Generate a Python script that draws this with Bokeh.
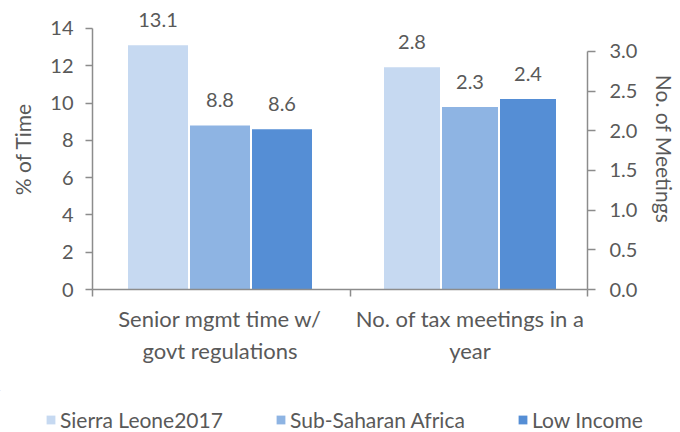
from bokeh.plotting import figure
from bokeh.models import (ColumnDataSource, Range1d, LinearAxis, FixedTicker, LabelSet,
                          Legend, LegendItem, CustomJSTickFormatter)
from bokeh.layouts import column
from bokeh.core.properties import value
from bokeh.embed import file_html
from bokeh.resources import INLINE

# ---- data ----
categories = ["Senior mgmt time w/\ngovt regulations", "No. of tax meetings in a\nyear"]
series = ["Sierra Leone2017", "Sub-Saharan Africa", "Low Income"]
mgmt_time = [13.1, 8.8, 8.6]        # % of Time (left axis)
tax_meetings = [2.8, 2.3, 2.4]      # No. of Meetings (right axis)
left_ticks = [0, 2, 4, 6, 8, 10, 12, 14]
right_ticks = [0, 0.5, 1.0, 1.5, 2.0, 2.5, 3.0]
colors = ["#C6D9F1", "#8EB4E3", "#558ED5"]

FONT = "Lato"
TXT = "#595959"
AX = "#8C8C8C"

W = 680
p = figure(width=W, height=390, output_backend="svg", toolbar_location=None,
           x_range=Range1d(0.49, 2.47), y_range=Range1d(0, 15.07),
           min_border_left=92, min_border_right=93, min_border_top=8,
           min_border_bottom=101)
p.extra_y_ranges = {"right": Range1d(0, 3.542)}
p.outline_line_color = None
p.grid.visible = False
p.background_fill_color = "white"

# group 1 (left axis)
sp1, w1 = 0.248, 0.24
src1 = ColumnDataSource(dict(
    x=[1 + (i - 1) * sp1 for i in range(len(series))],
    top=mgmt_time, color=colors, series=series,
    lbl=[f"{v:.1f}" for v in mgmt_time]))
r1 = p.vbar(x="x", top="top", width=w1, fill_color="color", line_color=None, source=src1)

# group 2 (right axis)
sp2, w2 = 0.232, 0.224
src2 = ColumnDataSource(dict(
    x=[2 + (i - 1) * sp2 for i in range(len(series))],
    top=tax_meetings, color=colors, series=series,
    lbl=[f"{v:.1f}" for v in tax_meetings]))
r2 = p.vbar(x="x", top="top", width=w2, fill_color="color", line_color=None,
            source=src2, y_range_name="right")

for src, rn in ((src1, "default"), (src2, "right")):
    ls = LabelSet(x="x", y="top", text="lbl", source=src, y_range_name=rn,
                  text_align="center", text_baseline="alphabetic", y_offset=18,
                  text_font=value(FONT), text_font_size="20px", text_color=TXT)
    p.add_layout(ls)

# x axis
xa = p.xaxis[0]
xa.ticker = FixedTicker(ticks=[1, 2], minor_ticks=[0.49, 1.52, 2.47])
xa.major_label_overrides = {1: categories[0], 2: categories[1]}
xa.major_tick_out = 0
xa.major_tick_in = 0
xa.minor_tick_out = 7
xa.minor_tick_in = 0
xa.major_label_standoff = 8
xa.axis_line_color = AX
xa.minor_tick_line_color = AX
xa.axis_line_width = 1.5
xa.minor_tick_line_width = 1.5
xa.major_label_text_font = FONT
xa.major_label_text_font_size = "22px"
xa.major_label_text_color = TXT

# left axis
ya = p.yaxis[0]
ya.ticker = FixedTicker(ticks=left_ticks)
ya.bounds = (0, 14)
ya.axis_label = "% of Time"
ya.minor_tick_line_color = None
ya.major_tick_in = 0
ya.major_tick_out = 7

# right axis
yr = LinearAxis(y_range_name="right", axis_label="No. of Meetings",
                ticker=FixedTicker(ticks=right_ticks), bounds=(0, 3))
yr.formatter = CustomJSTickFormatter(code="return tick.toFixed(1);")
yr.minor_tick_line_color = None
yr.major_tick_in = 0
yr.major_tick_out = 8
p.add_layout(yr, "right")

for ax in (ya, yr):
    ax.axis_line_color = AX
    ax.major_tick_line_color = AX
    ax.axis_line_width = 1.5
    ax.major_tick_line_width = 1.5
    ax.major_label_text_font = FONT
    ax.major_label_text_font_size = "20px"
    ax.major_label_text_color = TXT
    ax.axis_label_text_font = FONT
    ax.axis_label_text_font_size = "21px"
    ax.axis_label_text_color = TXT
    ax.axis_label_text_font_style = "normal"
ya.major_label_standoff = 12
ya.axis_label_standoff = 12
yr.major_label_standoff = 14
yr.axis_label_standoff = 12

# legend strip below the chart (its bars sit far outside the strip's visible
# ranges; only the legend entries show)
lg = figure(width=W, height=42, output_backend="svg", toolbar_location=None,
            x_axis_location=None, y_axis_location=None,
            min_border_left=0, min_border_right=0, min_border_top=0, min_border_bottom=0,
            x_range=Range1d(100, 101), y_range=Range1d(-200, -100))
lg.outline_line_color = None
lg.grid.visible = False
x_shift = 0
try:
    lg.frame_align = False
except Exception:
    x_shift = 92
rl = lg.vbar(x="x", top="top", width=w1, fill_color="color", line_color=None, source=src1)
legend_x = [45, 275, 517]
for i, (s, lx) in enumerate(zip(series, legend_x)):
    leg = Legend(items=[LegendItem(label=s, renderers=[rl], index=i)], location=(lx - x_shift, 0),
                 orientation="horizontal",
                 label_text_font=FONT, label_text_font_size="21px", label_text_color=TXT,
                 glyph_width=11, glyph_height=11, label_standoff=4, label_height=24,
                 border_line_color=None, background_fill_alpha=0, padding=0, margin=0)
    lg.add_layout(leg, "center")

layout = column(p, lg, spacing=0)
open("out.html", "w").write(file_html(layout, INLINE))
